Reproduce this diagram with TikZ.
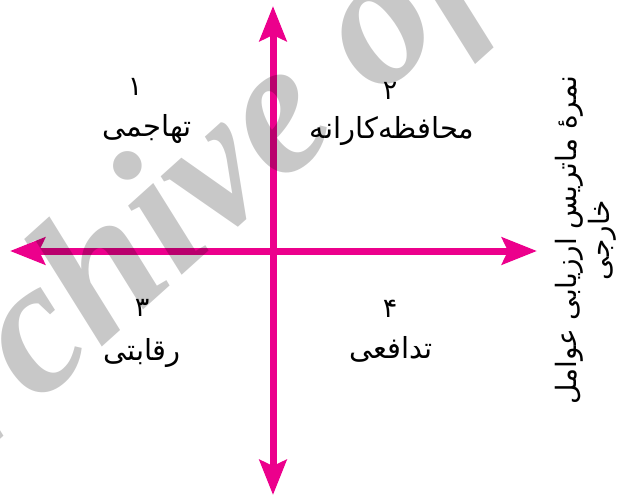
\documentclass[tikz,border=0pt]{standalone}
\usepackage{fontspec}
\newfontfamily\arabicfont[Script=Arabic]{DejaVu Sans}
\newfontfamily\wmfont{Liberation Serif}
\TeXXeTstate=1
\usetikzlibrary{arrows.meta}
\definecolor{axiscol}{HTML}{EC008C}
\definecolor{wmcol}{HTML}{C8C8C8}
\tikzset{
  axisline/.style={draw=axiscol, line width=7pt,
    {Stealth[length=35pt,width=27pt,inset=6pt]}-{Stealth[length=35pt,width=27pt,inset=6pt]}},
  numlabel/.style={font=\arabicfont\fontsize{27}{27}\selectfont, inner sep=0pt},
  wordlabel/.style={font=\arabicfont\fontsize{29}{30}\selectfont, inner sep=0pt, anchor=base},
  sidelabel/.style={font=\arabicfont\fontsize{28}{33}\selectfont, inner sep=0pt, align=center, rotate=90},
  watermark/.style={font=\wmfont\bfseries\itshape\fontsize{190}{190}\selectfont, text=wmcol, inner sep=0pt, anchor=base west, rotate=42},
}
\begin{document}
\begin{tikzpicture}[x=1pt,y=-1pt]
\useasboundingbox (0,0) rectangle (621,497);
\coordinate (L) at (10,251);
\coordinate (R) at (537,251);
\coordinate (T) at (273,6);
\coordinate (B) at (273,495);
\draw[axisline] (L) -- (R);
\draw[axisline] (T) -- (B);

\node[numlabel] (n1) at (135,87) {\beginR ۱\endR};
\node[wordlabel] (w1) at (147,137) {\beginR تهاجمی\endR};
\node[numlabel] (n2) at (390,91) {\beginR ۲\endR};
\node[wordlabel] (w2) at (392,139) {\beginR محافظه‌کارانه\endR};
\node[numlabel] (n3) at (142,308) {\beginR ۳\endR};
\node[wordlabel] (w3) at (142,360) {\beginR رقابتی\endR};
\node[numlabel] (n4) at (390,309) {\beginR ۴\endR};
\node[wordlabel] (w4) at (391,358) {\beginR تدافعی\endR};

\node[sidelabel] (side) at (586,240) {\beginR نمرهٔ ماتریس ارزیابی عوامل\endR\\\beginR خارجی\endR};

\begin{scope}[blend mode=multiply]
  \clip (0,0) rectangle (621,497);
  \node[watermark] (wm) at (-112,540) {Archive of SID};
\end{scope}
\end{tikzpicture}
\end{document}
